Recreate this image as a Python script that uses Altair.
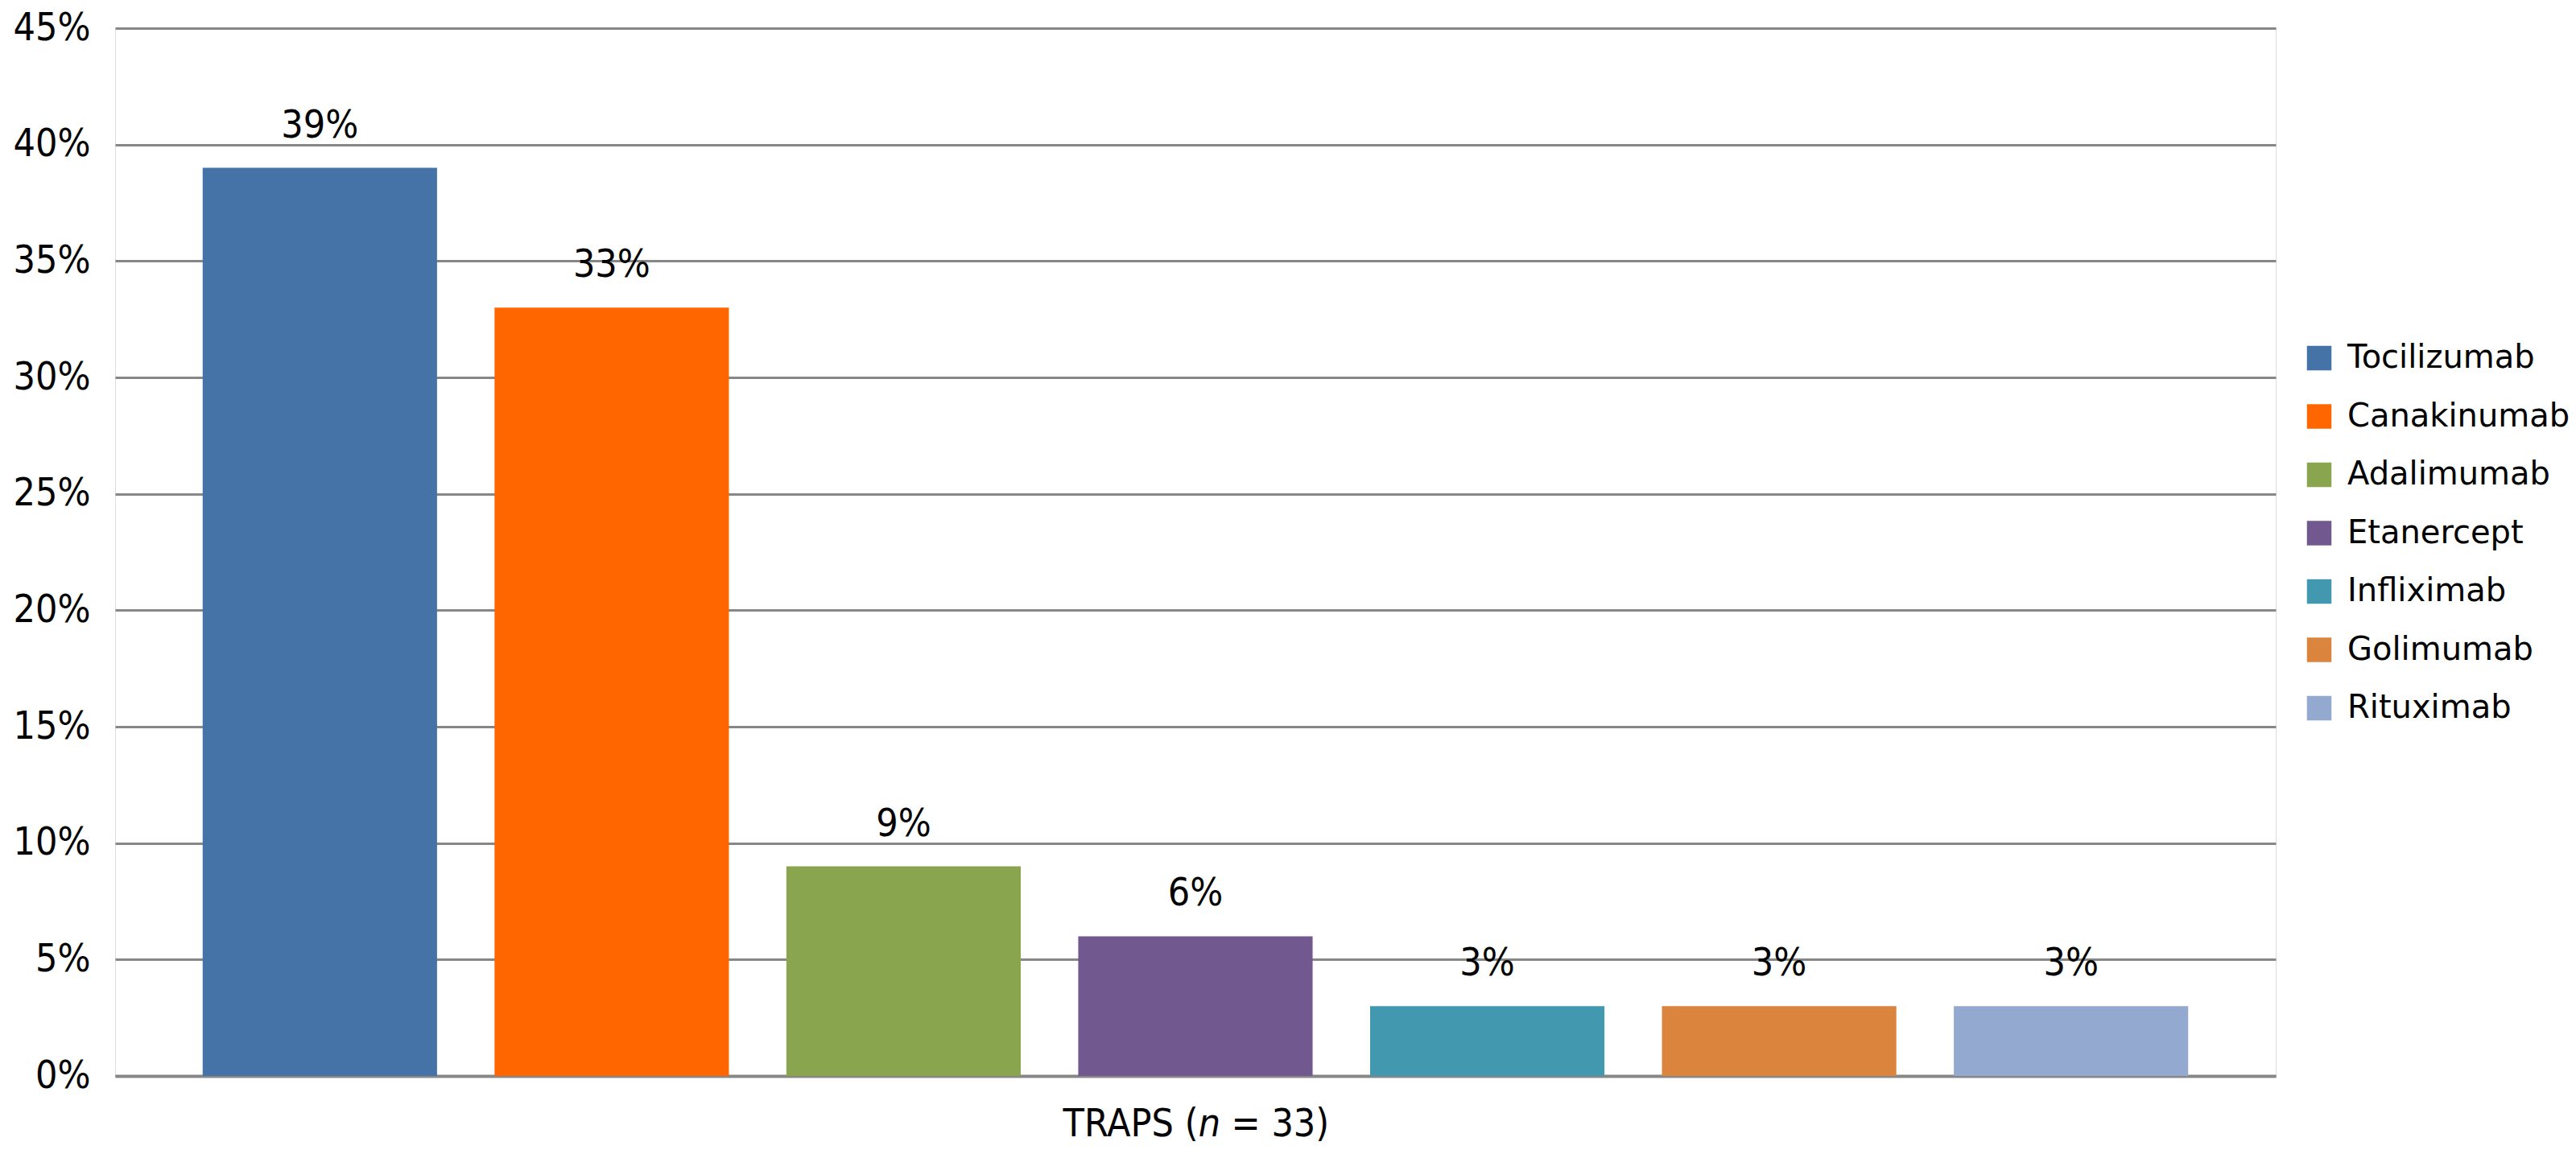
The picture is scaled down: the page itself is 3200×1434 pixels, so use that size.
import altair as alt
import pandas as pd

drugs = ["Tocilizumab", "Canakinumab", "Adalimumab", "Etanercept", "Infliximab", "Golimumab", "Rituximab"]
values = [39, 33, 9, 6, 3, 3, 3]
colors = ["#4572A7", "#FF6600", "#89A54E", "#71588F", "#4198AF", "#DB843D", "#93A9CF"]
y_ticks = [0, 5, 10, 15, 20, 25, 30, 35, 40, 45]
group_label = ["TRAPS (", "n", "= 33)"]

W, H = 2684, 1302
AX_FONT = "DejaVu Sans Condensed, Liberation Sans Narrow, DejaVu Sans"
AX_SIZE = 48

df = pd.DataFrame({"drug": drugs, "value": values})
df["label"] = [f"{v}%" for v in values]

x = alt.X("drug:N", sort=drugs,
          scale=alt.Scale(paddingInner=0.197, paddingOuter=0.30),
          axis=alt.Axis(labels=False, ticks=False, title=None, domain=True,
                        domainColor="#878787", domainWidth=4, grid=False))
y = alt.Y("value:Q",
          scale=alt.Scale(domain=[0, 45], nice=False),
          axis=alt.Axis(values=y_ticks, labelExpr="datum.value + '%'", title=None,
                        domain=False, ticks=False, grid=True, gridColor="#878787",
                        gridWidth=3, labelFont=AX_FONT, labelFontSize=AX_SIZE,
                        labelColor="#000000", labelPadding=31))

bars = alt.Chart(df).mark_bar().encode(
    x=x, y=y,
    color=alt.Color("drug:N", sort=drugs,
                    scale=alt.Scale(domain=drugs, range=colors),
                    legend=alt.Legend(title=None, orient="none", legendX=2718, legendY=390,
                                      symbolType="square", symbolSize=930, symbolStrokeWidth=0,
                                      labelFont="DejaVu Sans", labelFontSize=40,
                                      labelColor="#000000", labelOffset=15, rowPadding=32.5,
                                      padding=0, labelLimit=400)),
)

labels = alt.Chart(df).mark_text(font=AX_FONT, fontSize=AX_SIZE, baseline="middle",
                                 dy=-52, color="#000000").encode(
    x=alt.X("drug:N", sort=drugs), y="value:Q", text="label:N")

cx = W / 2
ty = H + 61
t1 = alt.Chart(pd.DataFrame({"t": [group_label[0]]})).mark_text(
    font=AX_FONT, fontSize=AX_SIZE, align="right", baseline="middle", color="#000000"
).encode(x=alt.value(cx + 3.5), y=alt.value(ty), text="t:N")
t2 = alt.Chart(pd.DataFrame({"t": [group_label[1]]})).mark_text(
    font=AX_FONT, fontSize=AX_SIZE, fontStyle="italic", align="center", baseline="middle",
    color="#000000"
).encode(x=alt.value(cx + 17.5), y=alt.value(ty), text="t:N")
t3 = alt.Chart(pd.DataFrame({"t": [group_label[2]]})).mark_text(
    font=AX_FONT, fontSize=AX_SIZE, align="left", baseline="middle", color="#000000"
).encode(x=alt.value(cx + 44.5), y=alt.value(ty), text="t:N")

chart = alt.layer(bars, labels, t1, t2, t3).properties(
    width=W, height=H,
    autosize=alt.AutoSizeParams(type="none"),
    padding={"left": 135, "top": 27, "right": 365, "bottom": 89},
).configure_view(stroke=None).configure(background="#ffffff")

chart.save("out.html", embed_options={"renderer": "svg", "actions": False})
